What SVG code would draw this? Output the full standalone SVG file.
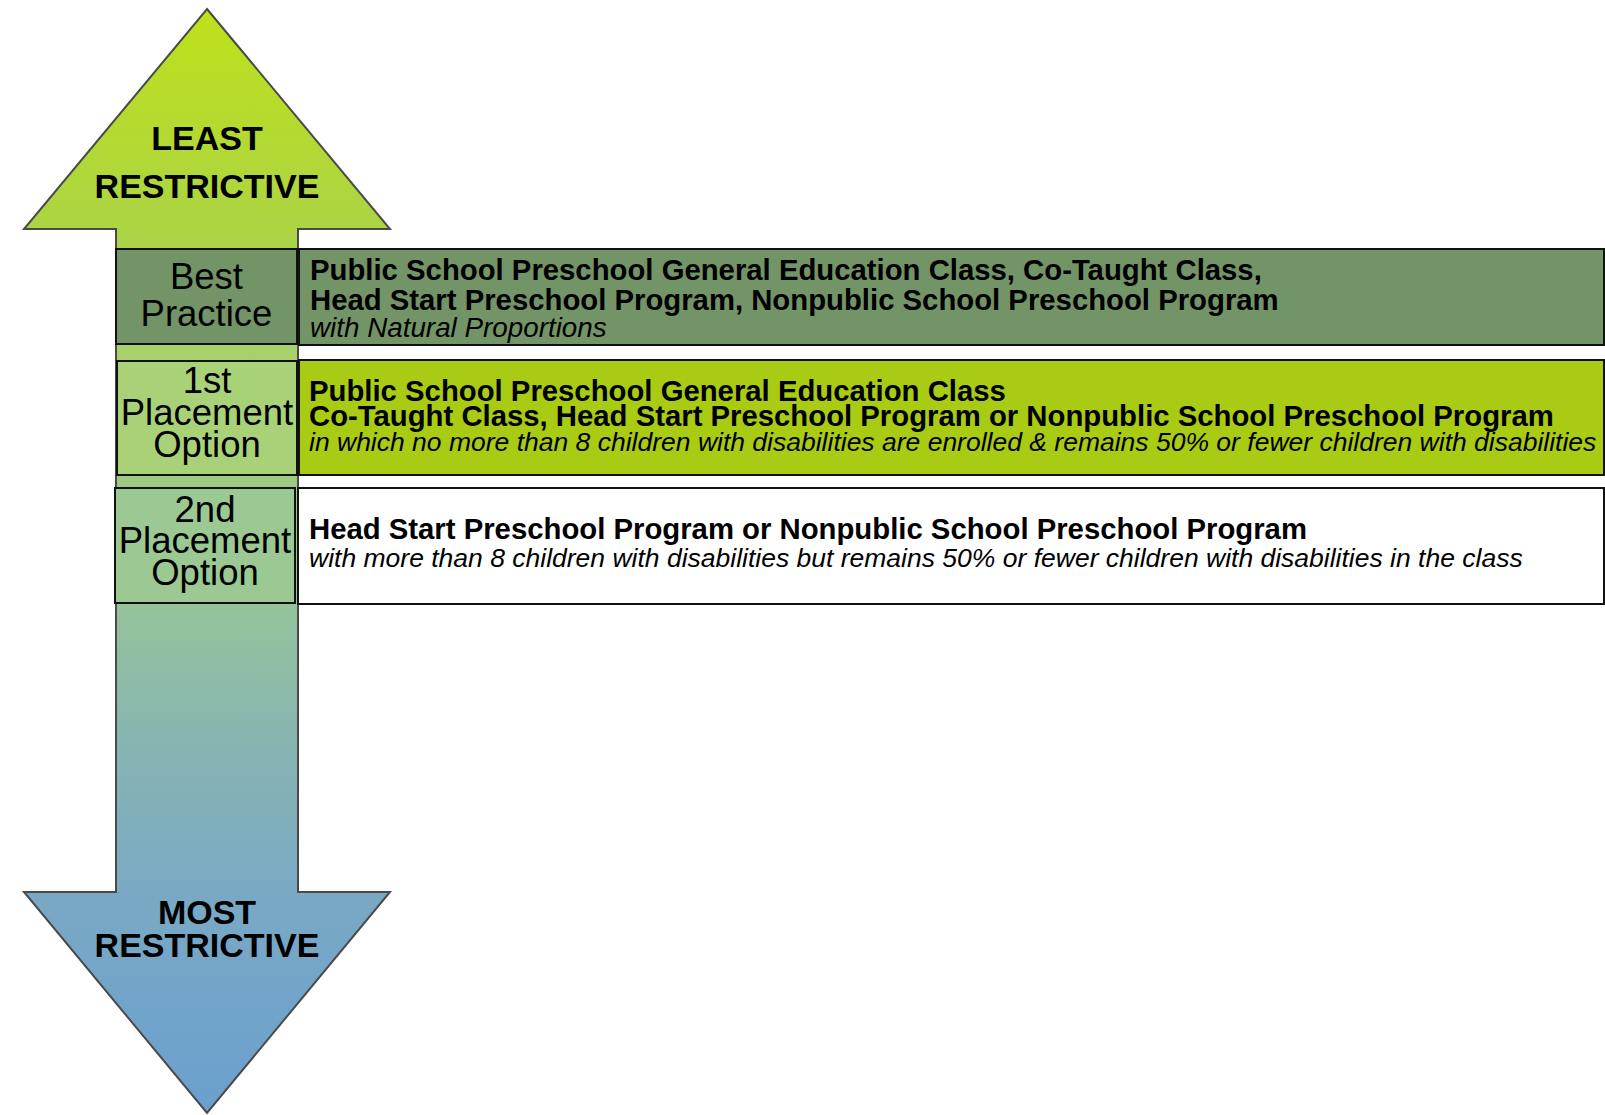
<svg xmlns="http://www.w3.org/2000/svg" width="1605" height="1115" viewBox="0 0 1605 1115">
<defs>
<linearGradient id="arrowGrad" gradientUnits="userSpaceOnUse" x1="0" y1="9" x2="0" y2="1113">
<stop offset="0" stop-color="#bee11a"/>
<stop offset="0.2" stop-color="#acd444"/>
<stop offset="0.31" stop-color="#a8d16a"/>
<stop offset="0.535" stop-color="#96c49a"/>
<stop offset="0.67" stop-color="#86b4b2"/>
<stop offset="0.8" stop-color="#7aa9c4"/>
<stop offset="1" stop-color="#6aa0cf"/>
</linearGradient>
<style>
.box{stroke:#111;stroke-width:2}
.big{font-family:"Liberation Sans",Arial,sans-serif;font-weight:bold;font-size:34px;fill:#000;text-anchor:middle}
.lbl{font-family:"Liberation Sans",Arial,sans-serif;font-size:36.5px;fill:#000;text-anchor:middle}
.b{font-family:"Liberation Sans",Arial,sans-serif;font-weight:bold;font-size:29.3px;fill:#000}
.i{font-family:"Liberation Sans",Arial,sans-serif;font-style:italic;font-size:26.5px;fill:#000}
</style>
</defs>
<g id="arrow">
<path d="M207,9 L390,229 L298,229 L298,892 L390,892 L207,1113 L24,892 L116,892 L116,229 L24,229 Z" fill="url(#arrowGrad)" stroke="#4a4a4a" stroke-width="2" stroke-linejoin="miter"/>
<text class="big" x="207" y="150">LEAST</text>
<text class="big" x="207" y="198">RESTRICTIVE</text>
<text class="big" x="207" y="924">MOST</text>
<text class="big" x="207" y="957">RESTRICTIVE</text>
</g>
<g id="best-practice">
<rect class="box" x="116" y="249" width="181" height="95" fill="#739466"/>
<text class="lbl" x="206.5" y="289">Best</text>
<text class="lbl" x="206.5" y="326">Practice</text>
</g>
<g id="best-practice-desc">
<rect class="box" x="299" y="249" width="1305" height="96" fill="#739466"/>
<text class="b" x="310" y="280">Public School Preschool General Education Class, Co-Taught Class,</text>
<text class="b" x="310" y="310">Head Start Preschool Program, Nonpublic School Preschool Program</text>
<text class="i" x="310" y="337" style="font-size:27.8px">with Natural Proportions</text>
</g>
<g id="first-option">
<rect class="box" x="117" y="361" width="180" height="114" fill="#a9d278"/>
<text class="lbl" x="207" y="393">1st</text>
<text class="lbl" x="207" y="425">Placement</text>
<text class="lbl" x="207" y="457">Option</text>
</g>
<g id="first-option-desc">
<rect class="box" x="299" y="360" width="1305" height="115" fill="#a9cb13"/>
<text class="b" x="309" y="401">Public School Preschool General Education Class</text>
<text class="b" x="309" y="426">Co-Taught Class, Head Start Preschool Program or Nonpublic School Preschool Program</text>
<text class="i" x="309" y="451">in which no more than 8 children with disabilities are enrolled &amp; remains 50% or fewer children with disabilities</text>
</g>
<g id="second-option">
<rect class="box" x="115" y="488" width="180" height="115" fill="#9bc893"/>
<text class="lbl" x="205" y="522">2nd</text>
<text class="lbl" x="205" y="553">Placement</text>
<text class="lbl" x="205" y="585">Option</text>
</g>
<g id="second-option-desc">
<rect class="box" x="298" y="488" width="1306" height="116" fill="#ffffff"/>
<text class="b" x="309" y="539">Head Start Preschool Program or Nonpublic School Preschool Program</text>
<text class="i" x="309" y="567">with more than 8 children with disabilities but remains 50% or fewer children with disabilities in the class</text>
</g>
<g id="connectors"></g>
</svg>
